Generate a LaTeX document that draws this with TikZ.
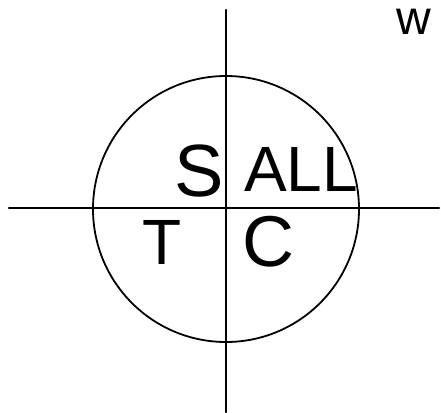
\documentclass[tikz,border=0pt]{standalone}
\usepackage{fontspec}
\setmainfont{Liberation Sans}
\usetikzlibrary{positioning}

\begin{document}
\begin{tikzpicture}[x=1pt, y=-1pt,
  axis/.style={line width=2.4pt, line cap=round},
  ring/.style={line width=1.8pt},
  quad/.style={font=\fontsize{64}{64}\selectfont, inner sep=0pt, anchor=center}
]
\useasboundingbox (0,0) rectangle (441,412);
% axes and unit circle
\coordinate (xl) at (9,208);
\coordinate (xr) at (439,208);
\coordinate (yt) at (226,10);
\coordinate (yb) at (226,412);
\coordinate (o) at (226,209);
\draw[axis] (xl) -- (xr);
\draw[axis] (yt) -- (yb);
\draw[ring] (o) circle (133);
% quadrant letters
\node[quad, font=\fontsize{74}{74}\selectfont] (s) at (199,171) {S};
\node[quad] (all) at (301,169) {ALL};
\node[quad] (t) at (162,242) {T};
\node[quad, font=\fontsize{72}{72}\selectfont] (c) at (268,242) {C};
% cut-off word at top right
\node[font=\fontsize{48}{48}\selectfont, inner sep=0pt, anchor=west] (w) at (396,22) {w};
\end{tikzpicture}
\end{document}
